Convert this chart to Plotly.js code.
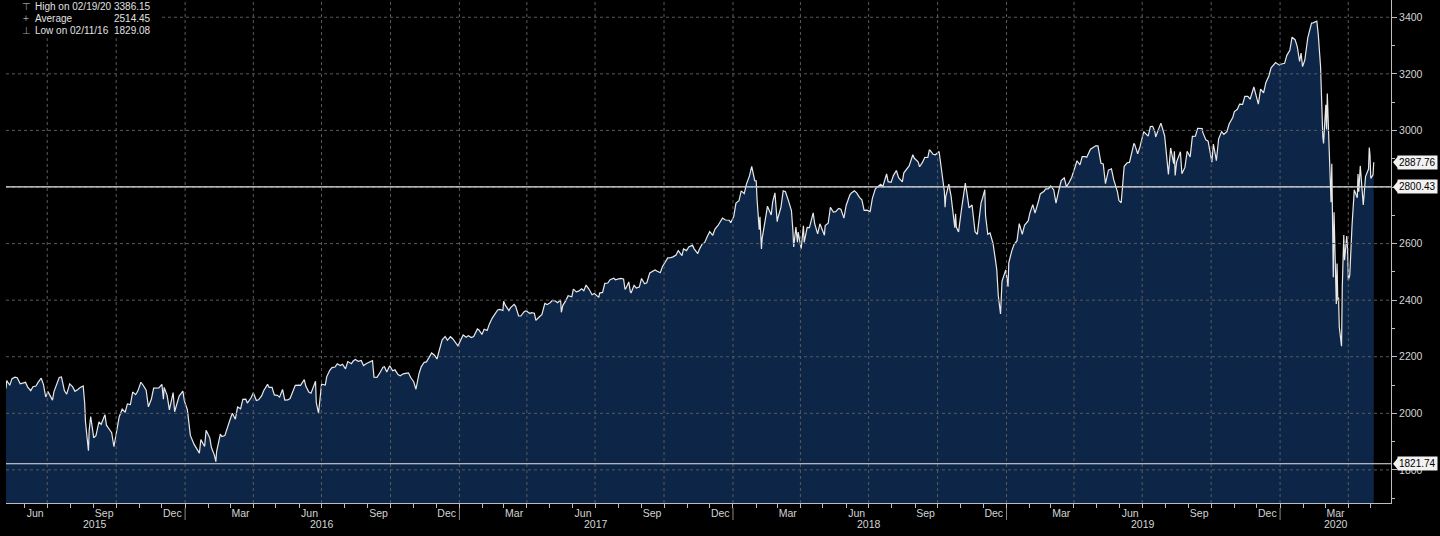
<!DOCTYPE html>
<html>
<head>
<meta charset="utf-8">
<script src="https://cdn.plot.ly/plotly-3.0.1.min.js"></script>
<style>
html,body{margin:0;padding:0;background:#000;}
#chart{width:1440px;height:536px;}
</style>
</head>
<body>
<div id="chart"></div>
<script>
// ---- data ----
const dates = [
'2015-05-07','2015-05-08','2015-05-12','2015-05-15','2015-05-19','2015-05-22','2015-05-26','2015-05-29',
'2015-06-02','2015-06-05','2015-06-09','2015-06-12','2015-06-16','2015-06-19','2015-06-23','2015-06-26','2015-06-29',
'2015-07-02','2015-07-08','2015-07-10','2015-07-14','2015-07-17','2015-07-20','2015-07-24','2015-07-27','2015-07-31',
'2015-08-04','2015-08-07','2015-08-11','2015-08-14','2015-08-18','2015-08-20','2015-08-21','2015-08-24','2015-08-25','2015-08-26','2015-08-28',
'2015-09-01','2015-09-04','2015-09-08','2015-09-11','2015-09-16','2015-09-18','2015-09-22','2015-09-25','2015-09-28',
'2015-10-02','2015-10-05','2015-10-09','2015-10-13','2015-10-16','2015-10-20','2015-10-23','2015-10-27','2015-10-30',
'2015-11-03','2015-11-06','2015-11-10','2015-11-13','2015-11-17','2015-11-20','2015-11-24','2015-11-27',
'2015-12-01','2015-12-03','2015-12-04','2015-12-08','2015-12-11','2015-12-16','2015-12-18','2015-12-24','2015-12-29','2015-12-31',
'2016-01-04','2016-01-07','2016-01-08','2016-01-13','2016-01-15','2016-01-20','2016-01-22','2016-01-27','2016-01-29',
'2016-02-03','2016-02-05','2016-02-09','2016-02-11','2016-02-12','2016-02-17','2016-02-19','2016-02-23','2016-02-26',
'2016-03-01','2016-03-04','2016-03-08','2016-03-11','2016-03-15','2016-03-18','2016-03-22','2016-03-24','2016-03-29',
'2016-04-01','2016-04-05','2016-04-08','2016-04-12','2016-04-15','2016-04-20','2016-04-22','2016-04-26','2016-04-29',
'2016-05-03','2016-05-06','2016-05-10','2016-05-13','2016-05-17','2016-05-20','2016-05-24','2016-05-27',
'2016-06-01','2016-06-03','2016-06-08','2016-06-10','2016-06-14','2016-06-17','2016-06-23','2016-06-24','2016-06-27','2016-06-30',
'2016-07-01','2016-07-06','2016-07-08','2016-07-12','2016-07-15','2016-07-19','2016-07-22','2016-07-26','2016-07-29',
'2016-08-02','2016-08-05','2016-08-10','2016-08-12','2016-08-15','2016-08-19','2016-08-23','2016-08-26','2016-08-30',
'2016-09-02','2016-09-07','2016-09-09','2016-09-13','2016-09-16','2016-09-21','2016-09-23','2016-09-26','2016-09-30',
'2016-10-04','2016-10-07','2016-10-11','2016-10-14','2016-10-18','2016-10-21','2016-10-25','2016-10-28',
'2016-11-01','2016-11-04','2016-11-08','2016-11-11','2016-11-15','2016-11-18','2016-11-22','2016-11-25','2016-11-29',
'2016-12-02','2016-12-07','2016-12-09','2016-12-13','2016-12-16','2016-12-20','2016-12-23','2016-12-30',
'2017-01-03','2017-01-06','2017-01-10','2017-01-13','2017-01-17','2017-01-20','2017-01-25','2017-01-27','2017-01-31',
'2017-02-03','2017-02-07','2017-02-10','2017-02-14','2017-02-17','2017-02-21','2017-02-24','2017-02-28',
'2017-03-01','2017-03-03','2017-03-08','2017-03-10','2017-03-15','2017-03-17','2017-03-21','2017-03-24','2017-03-28','2017-03-31',
'2017-04-05','2017-04-07','2017-04-11','2017-04-13','2017-04-18','2017-04-21','2017-04-25','2017-04-28',
'2017-05-02','2017-05-05','2017-05-09','2017-05-12','2017-05-16','2017-05-17','2017-05-19','2017-05-23','2017-05-26','2017-05-31',
'2017-06-02','2017-06-06','2017-06-09','2017-06-13','2017-06-16','2017-06-19','2017-06-23','2017-06-27','2017-06-30',
'2017-07-06','2017-07-07','2017-07-11','2017-07-14','2017-07-18','2017-07-21','2017-07-26','2017-07-28',
'2017-08-01','2017-08-04','2017-08-08','2017-08-10','2017-08-11','2017-08-15','2017-08-17','2017-08-18','2017-08-22','2017-08-25','2017-08-29',
'2017-09-01','2017-09-05','2017-09-08','2017-09-12','2017-09-15','2017-09-19','2017-09-22','2017-09-26','2017-09-29',
'2017-10-03','2017-10-06','2017-10-10','2017-10-13','2017-10-17','2017-10-20','2017-10-25','2017-10-27','2017-10-31',
'2017-11-03','2017-11-08','2017-11-10','2017-11-15','2017-11-17','2017-11-21','2017-11-24','2017-11-28',
'2017-12-01','2017-12-05','2017-12-08','2017-12-12','2017-12-15','2017-12-18','2017-12-22','2017-12-27','2017-12-29',
'2018-01-02','2018-01-05','2018-01-09','2018-01-12','2018-01-16','2018-01-19','2018-01-23','2018-01-26','2018-01-30',
'2018-02-01','2018-02-02','2018-02-05','2018-02-06','2018-02-08','2018-02-09','2018-02-14','2018-02-16','2018-02-21','2018-02-23','2018-02-26',
'2018-03-01','2018-03-02','2018-03-06','2018-03-09','2018-03-12','2018-03-16','2018-03-20','2018-03-22','2018-03-23','2018-03-26','2018-03-28','2018-03-29',
'2018-04-02','2018-04-05','2018-04-06','2018-04-10','2018-04-13','2018-04-18','2018-04-20','2018-04-24','2018-04-27',
'2018-05-03','2018-05-04','2018-05-08','2018-05-11','2018-05-15','2018-05-18','2018-05-22','2018-05-25','2018-05-29',
'2018-06-01','2018-06-06','2018-06-08','2018-06-12','2018-06-15','2018-06-19','2018-06-22','2018-06-25','2018-06-29',
'2018-07-03','2018-07-06','2018-07-10','2018-07-13','2018-07-17','2018-07-20','2018-07-25','2018-07-27','2018-07-31',
'2018-08-03','2018-08-07','2018-08-10','2018-08-15','2018-08-17','2018-08-21','2018-08-24','2018-08-29','2018-08-31',
'2018-09-05','2018-09-07','2018-09-11','2018-09-14','2018-09-18','2018-09-20','2018-09-21','2018-09-25','2018-09-28',
'2018-10-03','2018-10-05','2018-10-10','2018-10-11','2018-10-12','2018-10-16','2018-10-19','2018-10-24','2018-10-25','2018-10-26','2018-10-29',
'2018-11-02','2018-11-07','2018-11-09','2018-11-12','2018-11-16','2018-11-20','2018-11-23','2018-11-28','2018-11-30',
'2018-12-03','2018-12-04','2018-12-07','2018-12-10','2018-12-14','2018-12-17','2018-12-19','2018-12-21','2018-12-24','2018-12-26','2018-12-28','2018-12-31',
'2019-01-03','2019-01-04','2019-01-08','2019-01-11','2019-01-15','2019-01-18','2019-01-22','2019-01-25','2019-01-30',
'2019-02-01','2019-02-05','2019-02-08','2019-02-13','2019-02-15','2019-02-20','2019-02-22','2019-02-26',
'2019-03-01','2019-03-05','2019-03-08','2019-03-12','2019-03-15','2019-03-19','2019-03-22','2019-03-26','2019-03-29',
'2019-04-02','2019-04-05','2019-04-09','2019-04-12','2019-04-16','2019-04-18','2019-04-23','2019-04-26','2019-04-30',
'2019-05-03','2019-05-07','2019-05-10','2019-05-13','2019-05-17','2019-05-21','2019-05-24','2019-05-29','2019-05-31',
'2019-06-03','2019-06-07','2019-06-11','2019-06-14','2019-06-20','2019-06-21','2019-06-25','2019-06-28',
'2019-07-03','2019-07-05','2019-07-09','2019-07-12','2019-07-15','2019-07-18','2019-07-19','2019-07-23','2019-07-26','2019-07-31',
'2019-08-02','2019-08-05','2019-08-08','2019-08-12','2019-08-13','2019-08-14','2019-08-16','2019-08-21','2019-08-23','2019-08-27','2019-08-30',
'2019-09-03','2019-09-06','2019-09-10','2019-09-13','2019-09-19','2019-09-20','2019-09-24','2019-09-27',
'2019-10-02','2019-10-04','2019-10-08','2019-10-11','2019-10-15','2019-10-18','2019-10-22','2019-10-25','2019-10-30',
'2019-11-01','2019-11-05','2019-11-08','2019-11-12','2019-11-15','2019-11-19','2019-11-22','2019-11-27',
'2019-12-03','2019-12-06','2019-12-10','2019-12-13','2019-12-17','2019-12-20','2019-12-26','2019-12-31',
'2020-01-03','2020-01-07','2020-01-10','2020-01-14','2020-01-17','2020-01-21','2020-01-24','2020-01-27','2020-01-29','2020-01-31',
'2020-02-03','2020-02-07','2020-02-12','2020-02-14','2020-02-19','2020-02-21','2020-02-24','2020-02-25','2020-02-27','2020-02-28',
'2020-03-02','2020-03-03','2020-03-04','2020-03-06','2020-03-09','2020-03-10','2020-03-11','2020-03-12','2020-03-13','2020-03-16',
'2020-03-17','2020-03-18','2020-03-19','2020-03-20','2020-03-23','2020-03-24','2020-03-26','2020-03-27','2020-03-30','2020-03-31',
'2020-04-01','2020-04-03','2020-04-06','2020-04-08','2020-04-09','2020-04-13','2020-04-14','2020-04-15','2020-04-17','2020-04-21',
'2020-04-24','2020-04-28','2020-04-29','2020-04-30','2020-05-01','2020-05-04','2020-05-05'
];
const closes = [
2088.00,2116.10,2099.12,2122.73,2127.83,2126.06,2104.20,2107.39,
2109.60,2092.83,2080.15,2094.11,2096.29,2109.99,2124.20,2101.49,2057.64,
2076.78,2046.68,2076.62,2108.95,2126.64,2128.28,2079.65,2067.64,2103.84,
2093.32,2077.57,2084.07,2091.54,2096.92,2035.73,1970.89,1893.21,1867.61,1940.51,1988.87,
1913.85,1921.22,1969.41,1961.05,1995.31,1958.03,1942.74,1931.34,1881.77,
1951.36,1987.05,2014.89,2003.69,2033.11,2030.77,2075.15,2065.89,2079.36,
2109.79,2099.20,2081.72,2023.04,2050.44,2089.17,2089.14,2090.11,
2102.63,2049.62,2091.69,2063.59,2012.37,2073.07,2005.55,2060.99,2078.36,2043.94,
2012.66,1943.09,1922.03,1890.28,1880.33,1859.33,1906.90,1882.95,1940.24,
1912.53,1880.05,1852.21,1829.08,1864.78,1926.82,1917.78,1921.27,1948.05,
1978.35,1999.99,1979.26,2022.19,2015.93,2049.58,2049.80,2035.94,2055.01,
2072.78,2045.17,2047.60,2061.72,2080.73,2102.40,2091.58,2091.70,2065.30,
2063.37,2057.14,2084.39,2046.61,2047.21,2052.32,2076.06,2099.06,
2099.33,2099.13,2119.12,2096.07,2075.32,2071.22,2113.32,2037.41,2000.54,2098.86,
2102.95,2099.73,2129.90,2152.14,2161.74,2163.78,2175.03,2169.18,2173.60,
2157.03,2182.87,2175.49,2184.05,2190.15,2183.87,2186.90,2169.04,2176.12,
2179.98,2186.16,2127.81,2127.02,2139.16,2163.12,2164.69,2146.10,2168.27,
2150.49,2153.74,2136.73,2132.98,2139.60,2141.16,2143.16,2126.41,
2111.72,2085.18,2139.56,2164.45,2180.39,2181.90,2202.94,2213.35,2204.66,
2191.95,2241.35,2259.53,2271.72,2258.07,2270.76,2263.79,2238.83,
2257.83,2276.98,2268.90,2274.64,2267.89,2271.31,2298.37,2294.69,2278.87,
2297.42,2293.08,2316.10,2337.58,2351.16,2365.38,2367.34,2363.64,
2395.96,2383.12,2362.98,2372.60,2385.26,2378.25,2344.02,2343.98,2358.57,2362.72,
2352.95,2355.54,2353.78,2328.95,2342.19,2348.69,2388.61,2384.20,
2391.17,2399.29,2396.92,2390.90,2400.67,2357.03,2381.73,2398.42,2415.82,2411.80,
2439.07,2429.33,2431.77,2440.35,2433.15,2453.46,2438.30,2419.38,2423.41,
2409.75,2425.18,2427.43,2459.27,2460.61,2472.54,2477.83,2472.10,
2476.35,2476.83,2474.92,2438.21,2441.32,2464.61,2430.01,2425.55,2452.51,2443.05,2446.30,
2476.55,2457.85,2461.43,2496.48,2500.23,2506.65,2502.22,2496.84,2519.36,
2534.58,2549.33,2550.64,2553.17,2559.36,2575.21,2557.15,2581.07,2575.26,
2587.84,2594.38,2582.30,2564.62,2578.85,2599.03,2602.42,2627.04,
2642.22,2629.27,2651.50,2664.11,2675.81,2690.16,2683.34,2682.62,2673.61,
2695.81,2743.15,2751.29,2786.24,2776.42,2810.30,2839.13,2872.87,2822.43,
2821.98,2762.13,2648.94,2695.14,2581.00,2619.55,2698.63,2732.22,2701.33,2747.30,2779.60,
2677.67,2691.25,2728.12,2786.57,2783.02,2752.01,2716.94,2643.69,2588.26,2658.55,2605.00,2640.87,
2581.88,2662.84,2604.47,2656.87,2656.30,2708.64,2670.14,2634.56,2669.91,
2629.73,2663.42,2671.92,2727.72,2711.45,2712.97,2724.44,2721.33,2689.86,
2734.62,2772.35,2779.03,2786.85,2779.42,2762.59,2754.88,2717.07,2718.37,
2713.22,2759.82,2793.84,2801.31,2809.55,2801.83,2846.07,2818.82,2816.29,
2840.35,2858.45,2833.28,2818.37,2850.13,2862.96,2874.69,2914.04,2901.52,
2888.60,2871.68,2887.89,2904.98,2904.31,2930.75,2929.67,2915.56,2913.98,
2925.51,2885.57,2785.68,2728.37,2767.13,2809.92,2767.78,2656.10,2705.57,2658.69,2641.25,
2723.06,2813.89,2781.01,2726.22,2736.27,2641.89,2632.56,2743.79,2760.17,
2790.37,2700.06,2633.08,2637.72,2599.95,2545.94,2506.96,2416.62,2351.10,2467.70,2485.74,2506.85,
2447.89,2531.94,2574.41,2596.26,2610.30,2670.71,2632.90,2664.76,2681.05,
2706.53,2737.70,2707.88,2753.03,2775.60,2784.70,2792.67,2793.90,
2803.69,2789.65,2743.07,2791.52,2822.48,2832.57,2800.71,2818.46,2834.40,
2867.24,2892.74,2878.20,2907.41,2907.06,2905.03,2933.68,2939.88,2945.83,
2945.64,2884.05,2881.40,2811.87,2859.53,2864.36,2826.06,2783.02,2752.06,
2744.45,2873.34,2885.72,2886.98,2954.18,2950.46,2917.38,2941.76,
2995.82,2990.41,2979.63,3013.77,3014.30,2995.11,2976.61,3005.47,3025.86,2980.38,
2932.05,2844.74,2938.09,2882.70,2926.32,2840.60,2888.68,2924.43,2847.11,2869.16,2926.46,
2906.27,2978.71,2979.39,3007.39,3006.79,2992.07,2966.60,2961.79,
2887.61,2952.01,2893.06,2970.27,2995.68,2986.20,2995.99,3022.55,3046.77,
3066.91,3074.62,3093.08,3091.84,3120.46,3120.18,3110.29,3153.63,
3093.20,3145.91,3132.52,3168.80,3192.52,3221.22,3239.91,3230.78,
3234.85,3237.18,3265.35,3283.15,3329.62,3320.79,3295.47,3243.63,3273.40,3225.52,
3248.92,3327.71,3379.45,3380.16,3386.15,3337.75,3225.89,3128.21,2978.76,2954.22,
3090.23,3003.37,3130.12,2972.37,2746.56,2882.23,2741.38,2480.64,2711.02,2386.13,
2529.19,2398.10,2409.39,2304.92,2237.40,2447.33,2630.07,2541.47,2626.65,2584.59,
2470.50,2488.65,2663.68,2749.98,2789.82,2761.63,2846.06,2783.36,2874.56,2736.56,
2836.74,2863.39,2939.51,2912.43,2830.71,2842.74,2887.76
];

const yTicks = [1800, 2000, 2200, 2400, 2600, 2800, 3000, 3200, 3400];
const yTickText = ['1800', '2000', '2200', '2400', '2600', '', '3000', '3200', '3400'];
const monthNames = ['Mar', 'Jun', 'Sep', 'Dec'];
const monthNums = [3, 6, 9, 12];
const years = [2015, 2016, 2017, 2018, 2019, 2020];
const legendLabels = ['High on 02/19/20', 'Average', 'Low on 02/11/16'];
const legendValues = ['3386.15', '2514.45', '1829.08'];
const legendIcons = ['\u22A4', '+', '\u22A5'];
const refLevels = [2800.43, 1821.74];
const xRange = ['2015-05-07', '2020-05-28'];
const yRange = [1683, 3461];

// ---- styling helpers ----
const W = 1440, H = 536;
const M = {l: 6, r: 49, t: 0, b: 33};
const PW = W - M.l - M.r, PH = H - M.t - M.b;
const px2x = px => (px - M.l) / PW;
const py2y = py => (H - M.b - py) / PH;
const TXT = '#d4d4d4';
const FONT = '"Liberation Sans", Arial, sans-serif';
const GRID = '#5a5a5a';

const pad = n => (n < 10 ? '0' : '') + n;
const inRange = d => d >= xRange[0] && d <= xRange[1];

// x tick labels at mid-month
const tickvals = [], ticktext = [];
years.forEach(y => monthNums.forEach((m, i) => {
  const d = y + '-' + pad(m) + '-15';
  if (inRange(d)) { tickvals.push(d); ticktext.push(monthNames[i]); }
}));

const shapes = [];
// vertical quarterly gridlines
years.forEach(y => [1, 4, 7, 10].forEach(m => {
  const d = y + '-' + pad(m) + '-01';
  if (inRange(d)) shapes.push({type: 'line', layer: 'above', xref: 'x', yref: 'paper', x0: d, x1: d, y0: 0, y1: 1,
    line: {color: GRID, width: 1, dash: 'dot'}});
}));
// horizontal gridlines
yTicks.forEach(v => shapes.push({type: 'line', layer: 'above', xref: 'paper', yref: 'y', x0: 0, x1: 1, y0: v, y1: v,
  line: {color: GRID, width: 1, dash: 'dot'}}));
// reference levels
refLevels.forEach(v => shapes.push({type: 'line', layer: 'above', xref: 'paper', yref: 'y', x0: 0, x1: 1, y0: v, y1: v,
  line: {color: '#e6e6e6', width: 1.2}}));
// year separators below axis
years.forEach(y => {
  const d = y + '-01-01';
  if (inRange(d)) shapes.push({type: 'line', xref: 'x', yref: 'paper', x0: d, x1: d, y0: py2y(508), y1: py2y(520),
    line: {color: '#888', width: 1}});
});
// legend background
shapes.push({type: 'rect', layer: 'above', xref: 'paper', yref: 'paper', x0: px2x(0), x1: px2x(160), y0: py2y(38), y1: 1.01,
  fillcolor: '#000', line: {width: 0}});
// price tag pointers
const lastValue = closes[closes.length - 1];
[lastValue].concat(refLevels).forEach(v => shapes.push({type: 'path', xref: 'paper', yref: 'y',
  xsizemode: 'pixel', ysizemode: 'pixel', xanchor: 1, yanchor: v,
  path: 'M2,0 L7,-6 L7,6 Z', fillcolor: '#f2f2f2', line: {width: 0}}));

const annotations = [];
// price tags
[lastValue].concat(refLevels).forEach(v => annotations.push({
  xref: 'paper', yref: 'y', x: 1, y: v, xanchor: 'left', yanchor: 'middle', xshift: 6,
  text: v.toFixed(2), showarrow: false, bgcolor: '#f2f2f2', borderpad: 1,
  font: {family: FONT, size: 10, color: '#000'}
}));
// year labels
const t0 = Date.parse(xRange[0]), t1 = Date.parse(xRange[1]);
years.forEach(y => {
  const a = Math.max(Date.parse(y + '-01-01'), t0);
  const b = Math.min(Date.parse((y + 1) + '-01-01'), t1);
  const mid = new Date((a + b) / 2).toISOString().slice(0, 10);
  annotations.push({xref: 'x', yref: 'paper', x: mid, y: py2y(524), yanchor: 'middle', xanchor: 'center',
    text: String(y), showarrow: false, font: {family: FONT, size: 10.5, color: TXT}});
});
// legend box text
legendLabels.forEach((lab, i) => {
  const py = 6 + i * 12.3;
  annotations.push({xref: 'paper', yref: 'paper', x: px2x(26), y: py2y(py), xanchor: 'center', yanchor: 'middle',
    text: legendIcons[i], showarrow: false, font: {family: FONT, size: 10, color: '#9a9a9a'}});
  annotations.push({xref: 'paper', yref: 'paper', x: px2x(33), y: py2y(py), xanchor: 'left', yanchor: 'middle',
    text: lab, showarrow: false, font: {family: FONT, size: 10, color: '#e0e0e0'}});
  annotations.push({xref: 'paper', yref: 'paper', x: px2x(153), y: py2y(py), xanchor: 'right', yanchor: 'middle',
    text: legendValues[i], showarrow: false, font: {family: FONT, size: 10, color: '#e0e0e0'}});
});

const trace = {
  type: 'scatter', mode: 'lines', x: dates, y: closes,
  fill: 'tozeroy', fillcolor: '#0d2648',
  line: {color: '#e8e8e8', width: 1.2}, hoverinfo: 'x+y'
};

const layout = {
  width: W, height: H, margin: M,
  paper_bgcolor: '#000', plot_bgcolor: '#000',
  showlegend: false,
  xaxis: {
    type: 'date', range: xRange, showgrid: false, zeroline: false,
    tickmode: 'array', tickvals: tickvals, ticktext: ticktext, ticks: '',
    tickfont: {family: FONT, size: 10.5, color: TXT},
    showline: true, linecolor: '#bdbdbd', linewidth: 1,
    minor: {tickmode: 'linear', tick0: '2015-01-01', dtick: 'M1', ticks: 'outside', ticklen: 4, tickcolor: '#bdbdbd', showgrid: false}
  },
  yaxis: {
    side: 'right', range: yRange, showgrid: false, zeroline: false,
    tickmode: 'array', tickvals: yTicks, ticktext: yTickText, ticks: 'outside', ticklen: 5, tickcolor: '#bdbdbd',
    tickfont: {family: FONT, size: 10.5, color: TXT},
    showline: true, linecolor: '#bdbdbd', linewidth: 1,
    minor: {tickmode: 'linear', tick0: 1700, dtick: 100, ticks: 'outside', ticklen: 3, tickcolor: '#bdbdbd', showgrid: false}
  },
  shapes: shapes,
  annotations: annotations
};

Plotly.newPlot('chart', [trace], layout, {displayModeBar: false, staticPlot: true});
</script>
</body>
</html>
